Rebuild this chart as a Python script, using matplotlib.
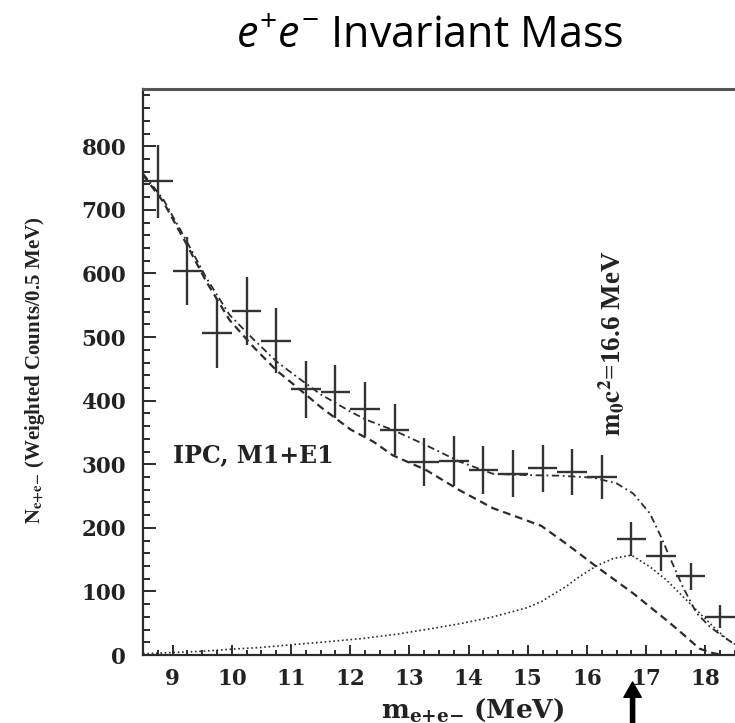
import matplotlib
matplotlib.use("Agg")
import matplotlib.pyplot as plt
from matplotlib.ticker import MultipleLocator

# measured points (0.5 MeV bins)
mass = [8.75, 9.25, 9.75, 10.25, 10.75, 11.25, 11.75, 12.25, 12.75, 13.25,
        13.75, 14.25, 14.75, 15.25, 15.75, 16.25, 16.75, 17.25, 17.75, 18.25]
counts = [745, 604, 506, 541, 494, 418, 414, 387, 354, 304,
          305, 291, 285, 294, 288, 280, 182, 156, 124, 60]
count_err = [57, 53, 55, 53, 51, 45, 42, 43, 40, 38,
             39, 38, 37, 37, 36, 35, 27, 24, 21, 18]
bin_half = 0.25

# IPC background (dashed)
bkg_x = [8.5, 8.84, 9.23, 9.57, 9.96, 10.36, 10.75, 11.09, 11.5, 12.0, 12.4,
         12.72, 13.28, 13.85, 14.41, 14.97, 15.23, 15.65, 16.16, 16.78,
         17.34, 17.62, 17.9, 18.13, 18.3]
bkg_y = [755, 713, 647, 587, 527, 485, 448, 422, 390, 355, 335,
         314, 291, 259, 231, 212, 203, 175, 139, 97,
         55, 33, 10, 3, 0]

# boson signal (dotted)
sig_x = [8.5, 9.0, 9.5, 9.96, 10.5, 10.98, 11.5, 12.21, 12.8, 13.34, 13.9,
         14.41, 14.97, 15.23, 15.42, 15.65, 15.82, 16.0, 16.18, 16.45, 16.75,
         17.06, 17.34, 17.62, 17.9, 18.13, 18.35, 18.5]
sig_y = [2, 4, 6, 9, 12, 16, 20, 26, 33, 41, 50,
         60, 74, 84, 95, 108, 120, 131, 141, 152, 157,
         139, 118, 92, 66, 45, 26, 17]

# sum of both (dash-dot)
tot_x = [8.5, 8.84, 9.23, 9.57, 9.96, 10.36, 10.75, 11.09, 11.5, 12.0, 12.27,
         12.72, 13.28, 13.85, 14.41, 14.97, 15.54, 16.1, 16.5, 16.78, 17.06,
         17.25, 17.42, 17.62, 17.85, 18.07, 18.3, 18.46, 18.5]
tot_y = [757, 717, 652, 593, 535, 497, 462, 438, 410, 383, 370,
         354, 330, 304, 285, 283, 282, 279, 270, 254, 223,
         186, 149, 107, 66, 45, 29, 19, 17]

peak_mass = 16.77

plt.rcParams['mathtext.fontset'] = 'custom'
plt.rcParams['mathtext.rm'] = 'Open Sans'
plt.rcParams['mathtext.it'] = 'Open Sans:italic'

ink = '#2b2b2b'

fig = plt.figure(figsize=(7.35, 7.23), dpi=100)
ax = fig.add_axes([0.1946, 0.0940, 0.8054, 0.7828])

ax.plot(bkg_x, bkg_y, color=ink, lw=1.6, linestyle=(0, (3.5, 2.2)))
ax.plot(sig_x, sig_y, color=ink, lw=1.2, linestyle=(0, (1, 1.6)))
ax.plot(tot_x, tot_y, color=ink, lw=1.3, linestyle=(0, (4, 2, 1, 2)))
ax.errorbar(mass, counts, yerr=count_err, xerr=bin_half, fmt='none',
            ecolor='#333333', elinewidth=1.7, capsize=0)

ax.set_xlim(8.5, 18.5)
ax.set_ylim(0, 890)
ax.xaxis.set_major_locator(MultipleLocator(1))
ax.xaxis.set_minor_locator(MultipleLocator(0.25))
ax.yaxis.set_major_locator(MultipleLocator(100))
ax.yaxis.set_minor_locator(MultipleLocator(20))

ax.tick_params(which='both', direction='in', colors=ink, width=1.4,
               top=False, right=False)
ax.tick_params(axis='x', which='major', length=7.5, pad=9)
ax.tick_params(axis='x', which='minor', length=3.8)
ax.tick_params(axis='y', which='major', length=9, pad=12)
ax.tick_params(axis='y', which='minor', length=5)

for lab in ax.get_xticklabels() + ax.get_yticklabels():
    lab.set_fontfamily('DejaVu Serif')
    lab.set_fontweight('bold')
    lab.set_fontsize(15.5)
    lab.set_color('#222222')

ax.spines['right'].set_visible(False)
ax.spines['left'].set_linewidth(1.6)
ax.spines['bottom'].set_linewidth(1.6)
ax.spines['left'].set_color(ink)
ax.spines['bottom'].set_color(ink)
ax.spines['top'].set_linewidth(2.2)
ax.spines['top'].set_color('#555555')

ax.set_ylabel(r'$\mathbf{N}_{\mathbf{e{+}e{-}}}$ (Weighted Counts/0.5 MeV)',
              family='Liberation Serif', fontweight='bold', fontsize=15,
              math_fontfamily='stix', color='#222222', ha='center', va='center')
ax.yaxis.set_label_coords(-0.182, 0.503)

ax.set_xlabel(r'$\mathbf{m}_{\mathbf{e{+}e{-}}}$ (MeV)', family='DejaVu Serif',
              fontweight='bold', fontsize=19, math_fontfamily='dejavuserif',
              color='#222222', va='baseline')
ax.xaxis.set_label_coords(0.557, -0.111)

ax.text(9.0, 314, 'IPC, M1+E1', family='DejaVu Serif', fontweight='bold',
        fontsize=17, color='#222222', ha='left', va='center')
ax.text(16.43, 490, r'$\mathbf{m}_{\mathbf{0}}\mathbf{c}^{\mathbf{2}}$=16.6 MeV',
        family='Liberation Serif', fontweight='bold', fontsize=19.5,
        math_fontfamily='stix', color='#222222', rotation=90,
        ha='center', va='center')

# arrow under the axis marking the peak
ax.annotate('', xy=(peak_mass, 1 - 682 / 723), xytext=(peak_mass, -0.02),
            xycoords=('data', 'figure fraction'),
            textcoords=('data', 'figure fraction'),
            arrowprops=dict(width=3, headwidth=12.5, headlength=11,
                            color='black'),
            annotation_clip=False)

fig.text(0.584, 1 - 46.7 / 723, r'$e^{+}e^{-}$ Invariant Mass',
         family='Open Sans', fontsize=31, math_fontfamily='custom',
         ha='center', va='baseline', color='black')

fig.savefig('out.png', dpi=100)
